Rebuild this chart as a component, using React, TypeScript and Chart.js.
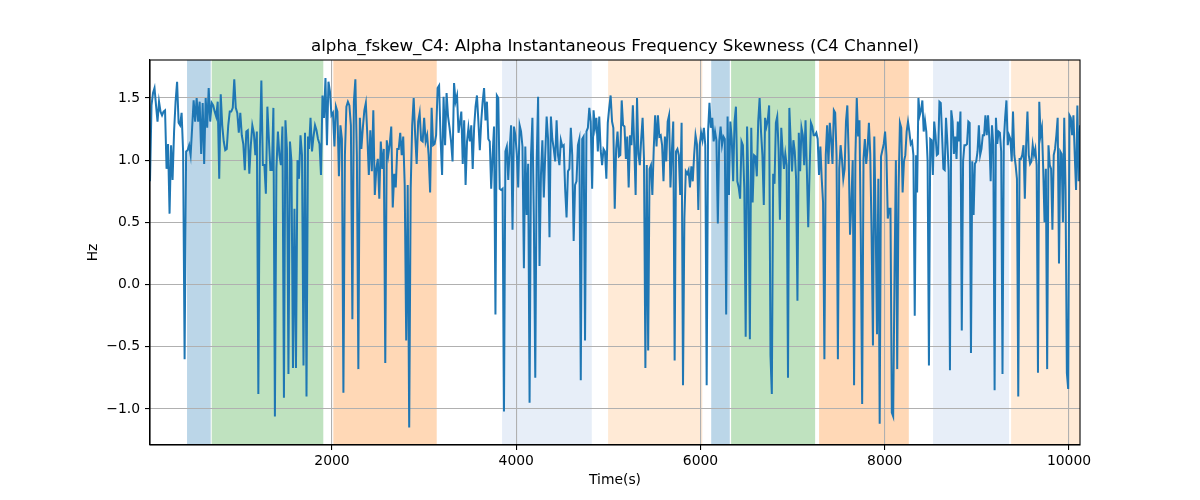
import React, { useEffect, useRef } from "react";
import { Chart, registerables } from "chart.js";

Chart.register(...registerables);

const TITLE = "alpha_fskew_C4: Alpha Instantaneous Frequency Skewness (C4 Channel)";
const X_LABEL = "Time(s)";
const Y_LABEL = "Hz";

const X_MIN = 25;
const X_MAX = 10119;
const Y_MIN = -1.29;
const Y_MAX = 1.805;
const X_TICKS = [2000, 4000, 6000, 8000, 10000];
const Y_TICKS = [-1.0, -0.5, 0.0, 0.5, 1.0, 1.5];

// Shaded intervals (seconds)
const SPAN_START = [427, 695, 2015, 3846, 4997, 6116, 6332, 7287, 8524, 9371];
const SPAN_END = [684, 1906, 3137, 4820, 6020, 6318, 7244, 8261, 9349, 10119];
const SPAN_COLOR = [
  "rgba(31,119,180,0.3)",
  "rgba(44,160,44,0.3)",
  "rgba(255,127,14,0.3)",
  "rgba(174,199,232,0.3)",
  "rgba(255,187,120,0.3)",
  "rgba(31,119,180,0.3)",
  "rgba(44,160,44,0.3)",
  "rgba(255,127,14,0.3)",
  "rgba(174,199,232,0.3)",
  "rgba(255,187,120,0.3)",
];

// Time range covered by each recorded segment (seconds)
const SEG_T0 = [25, 1751, 3404, 5054, 6701, 8351];
const SEG_T1 = [1740, 3390, 5040, 6687, 8340, 10119];

const SEG1 = [0.83,1.44,1.54,1.58,1.44,1.31,1.47,1.39,1.36,1.39,1.40,0.93,1.13,0.57,1.12,0.84,1.23,1.47,1.63,1.30,1.28,1.38,1.07,-0.60,1.07,1.08,1.12,1.04,1.26,1.48,1.31,1.50,1.31,1.47,1.05,1.46,0.97,1.50,1.26,1.58,1.31,1.46,1.44,1.39,1.35,1.47,0.85,1.53,1.28,1.15,1.08,1.09,1.28,1.39,1.39,1.42,1.65,1.42,1.38,1.22,1.38,1.20,1.13,0.92,1.23,1.24,0.89,1.12,1.28,1.22,1.04,1.23,-0.88,1.09,1.64,0.96,0.96,0.73,1.43,1.17,0.92,0.92,1.42,-1.06,0.93,1.23,1.04,0.96,1.27,-0.91,1.32,1.09,-0.72,1.15,0.99,-0.67,0.61,-0.67,1.00,0.85,1.20,1.04,-0.65,1.22,-0.90,1.19];
const SEG2 = [1.09,1.34,1.07,1.19,1.28,1.24,1.17,1.13,0.88,1.52,1.34,1.66,1.12,1.63,1.55,1.36,1.38,1.11,1.43,1.39,0.87,1.28,1.17,-0.87,1.04,1.43,1.47,1.44,1.28,-0.28,1.47,1.65,1.04,-0.68,1.34,1.09,1.26,1.40,1.46,1.20,0.88,1.24,0.91,1.40,0.72,0.93,1.01,0.69,1.15,0.93,1.09,-0.63,1.16,1.04,1.13,1.27,0.62,0.89,0.78,1.09,1.09,1.22,1.04,1.19,0.80,-0.45,0.80,-1.15,0.77,1.28,1.50,1.20,0.97,1.31,1.38,1.16,1.15,1.34,1.15,1.20,1.04,0.74,1.42,1.12,1.13,1.20,1.58,1.60,1.17,0.88,1.51,1.12,1.54,1.35,1.26,1.15,0.99,1.62,1.47,1.52,1.22,1.31];
const SEG3 = [1.39,0.97,1.32,0.80,1.15,1.26,1.15,1.28,0.93,1.26,1.43,1.52,1.31,1.08,1.31,1.47,1.58,1.32,1.47,1.17,1.15,0.77,1.04,1.27,-0.24,1.52,1.50,0.77,0.76,0.77,-1.02,1.07,1.11,0.84,1.09,1.28,0.44,1.27,1.20,1.05,0.78,1.28,1.23,1.11,0.13,1.11,0.56,0.97,-0.95,1.04,1.34,0.53,-0.75,0.99,1.51,0.15,0.88,1.16,0.70,1.04,1.35,1.17,0.38,1.35,1.17,1.09,0.99,1.32,1.04,0.96,1.16,1.11,1.12,0.77,0.54,0.91,0.93,1.26,1.04,0.35,0.80,0.83,1.12,1.17,-0.77,1.17,1.19,-0.45,1.23,1.26,1.42,1.31,0.77,1.40,1.26,1.34,1.07,1.35,1.08,0.96,1.09,1.07,0.85,1.30,1.42,1.52,1.31];
const SEG4 = [1.26,0.61,1.09,1.23,1.03,1.04,1.48,1.28,1.27,1.01,1.19,0.78,1.20,1.12,1.44,1.12,0.72,1.50,1.05,0.96,1.17,1.34,1.01,-0.67,0.96,-0.53,0.93,0.96,0.72,1.09,1.36,1.11,1.36,1.19,1.20,1.12,0.83,1.19,0.99,1.31,1.36,0.78,1.07,1.31,-0.61,1.07,1.09,1.04,0.72,1.30,-0.81,0.53,0.91,0.89,0.92,0.78,0.95,0.83,1.04,1.20,1.13,0.60,1.12,1.22,1.16,1.26,1.12,-0.81,1.23,1.46,1.26,1.34,1.15,1.23,1.16,0.49,1.15,1.27,1.12,1.19,1.17,-0.24,1.35,0.72,1.31,1.17,0.83,1.31,1.43,0.83,0.78,0.69,1.15,1.12,0.77,-0.42,1.27,0.77,-0.44,1.26,0.66,1.04,1.03,0.87,1.31,1.50,1.23,1.04,0.64];
const SEG5 = [1.34,1.27,1.32,1.44,-0.57,-0.88,0.89,0.81,1.30,1.35,1.09,0.52,1.26,1.07,0.93,1.05,0.96,-0.75,1.42,1.15,0.91,1.16,1.07,0.85,-0.13,1.22,0.91,1.26,1.20,0.96,1.32,0.91,0.46,0.91,1.30,1.27,1.20,1.20,1.22,1.17,0.88,1.11,0.85,0.66,-0.60,1.04,1.28,0.97,1.30,1.16,0.97,1.40,1.38,1.04,-0.60,0.93,1.12,1.01,0.85,0.93,1.31,1.44,1.04,0.40,0.66,1.00,-0.81,1.04,1.50,1.19,1.32,0.37,-0.96,1.01,1.17,0.97,1.09,1.30,1.05,0.40,-0.49,1.19,0.50,-0.40,0.85,-1.12,1.03,1.08,1.13,1.23,1.04,0.53,0.61,0.61,-1.03,-1.06,0.07,1.00,-0.68,0.77,1.30,1.26,0.74,0.99,1.04,1.23,1.31,1.23,1.13,1.15,1.04,-0.25,1.04];
const SEG6 = [0.74,1.50,1.36,1.40,1.48,1.23,1.32,1.23,0.99,-0.65,1.17,1.16,0.88,1.31,1.20,1.04,1.05,1.47,1.46,1.20,0.93,0.92,1.34,1.15,0.92,-0.69,1.40,1.31,1.05,1.19,1.01,1.31,1.15,1.39,-0.37,0.99,1.12,1.12,1.13,1.31,1.30,-0.55,0.99,0.56,0.97,0.99,1.07,1.28,1.04,1.09,1.20,1.20,1.36,1.20,1.36,1.17,0.83,1.28,1.12,-0.85,1.34,1.13,1.23,1.22,1.07,-0.72,1.15,1.34,1.48,1.12,1.20,1.17,0.99,1.39,1.04,0.96,0.85,-0.90,1.01,1.01,1.04,1.12,0.69,1.12,1.39,1.04,0.97,0.99,1.12,1.04,1.09,0.96,-0.71,1.47,1.20,1.26,0.93,0.50,0.93,-0.68,1.12,0.96,0.93,0.44,1.04,1.09,1.20,1.34,0.17,1.07,1.05,0.50,1.34,0.76,-0.71,-0.84,1.36,1.34,1.20,1.36,1.04,0.76,1.44,0.83,1.28];

const SEGMENTS = [SEG1, SEG2, SEG3, SEG4, SEG5, SEG6];

const FONT = "'DejaVu Sans', sans-serif";

function buildPoints() {
  const pts: { x: number; y: number }[] = [];
  SEGMENTS.forEach((vals, s) => {
    const n = vals.length;
    vals.forEach((v, i) => {
      pts.push({ x: SEG_T0[s] + ((SEG_T1[s] - SEG_T0[s]) * i) / (n - 1), y: v });
    });
  });
  return pts;
}

const spansPlugin = {
  id: "spans",
  beforeDraw(chart: any) {
    const { ctx, chartArea } = chart;
    const xs = chart.scales.x;
    ctx.save();
    for (let i = 0; i < SPAN_START.length; i++) {
      let x1 = xs.getPixelForValue(SPAN_START[i]);
      let x2 = xs.getPixelForValue(SPAN_END[i]);
      x1 = Math.max(x1, chartArea.left);
      x2 = Math.min(x2, chartArea.right);
      ctx.fillStyle = SPAN_COLOR[i];
      ctx.fillRect(x1, chartArea.top, x2 - x1, chartArea.bottom - chartArea.top);
    }
    ctx.restore();
  },
};

const framePlugin = {
  id: "frame",
  afterDatasetsDraw(chart: any) {
    const { ctx, chartArea } = chart;
    ctx.save();
    ctx.strokeStyle = "#000";
    ctx.lineWidth = 1.1;
    ctx.strokeRect(chartArea.left, chartArea.top, chartArea.right - chartArea.left, chartArea.bottom - chartArea.top);
    ctx.restore();
  },
};

const titlePlugin = {
  id: "mplTitle",
  afterDraw(chart: any) {
    const { ctx, chartArea } = chart;
    ctx.save();
    ctx.fillStyle = "#000";
    ctx.font = `16.7px ${FONT}`;
    ctx.textAlign = "center";
    ctx.textBaseline = "middle";
    ctx.fillText(TITLE, (chartArea.left + chartArea.right) / 2, 46.5);
    ctx.restore();
  },
};

export default function App() {
  const ref = useRef<HTMLCanvasElement | null>(null);

  useEffect(() => {
    document.body.style.margin = "0";
    if (!ref.current) return;
    const chart = new Chart(ref.current, {
      type: "line",
      data: {
        datasets: [
          {
            data: buildPoints(),
            borderColor: "#1f77b4",
            borderWidth: 2,
            pointRadius: 0,
            tension: 0,
            fill: false,
          },
        ],
      },
      options: {
        animation: false,
        responsive: false,
        devicePixelRatio: 1,
        layout: { padding: { left: 85, right: 120, top: 60, bottom: 11.65 } },
        plugins: {
          legend: { display: false },
          tooltip: { enabled: false },
          title: { display: false },
        },
        scales: {
          x: {
            type: "linear",
            min: X_MIN,
            max: X_MAX,
            afterBuildTicks: (s: any) => {
              s.ticks = X_TICKS.map((v) => ({ value: v }));
            },
            afterFit: (s: any) => {
              s.height = 43.35;
            },
            ticks: {
              color: "#000",
              font: { family: FONT, size: 13.9 },
              padding: 3,
              maxRotation: 0,
              autoSkip: false,
              callback: (v: any) => String(v),
            },
            grid: {
              color: "#b0b0b0",
              lineWidth: 1.1,
              tickLength: 5,
              tickColor: "#000",
              tickWidth: 1.1,
            },
            border: { display: true, color: "#000", width: 1.1 },
            title: {
              display: true,
              text: X_LABEL,
              color: "#000",
              font: { family: FONT, size: 13.9 },
              padding: { top: 0, bottom: 0 },
            },
          },
          y: {
            type: "linear",
            min: Y_MIN,
            max: Y_MAX,
            afterBuildTicks: (s: any) => {
              s.ticks = Y_TICKS.map((v) => ({ value: v }));
            },
            afterFit: (s: any) => {
              s.width = 65;
            },
            ticks: {
              color: "#000",
              font: { family: FONT, size: 13.9 },
              padding: 5,
              autoSkip: false,
              callback: (v: any) => Number(v).toFixed(1).replace("-", "\u2212"),
            },
            grid: {
              color: "#b0b0b0",
              lineWidth: 1.1,
              tickLength: 5,
              tickColor: "#000",
              tickWidth: 1.1,
            },
            border: { display: true, color: "#000", width: 1.1 },
            title: {
              display: true,
              text: Y_LABEL,
              color: "#000",
              font: { family: FONT, size: 13.9 },
              padding: { top: 0, bottom: 0 },
            },
          },
        },
      },
      plugins: [spansPlugin, framePlugin, titlePlugin],
    });
    return () => chart.destroy();
  }, []);

  return (
    <div style={{ width: 1200, height: 500 }}>
      <canvas ref={ref} width={1200} height={500} style={{ display: "block" }} />
    </div>
  );
}
